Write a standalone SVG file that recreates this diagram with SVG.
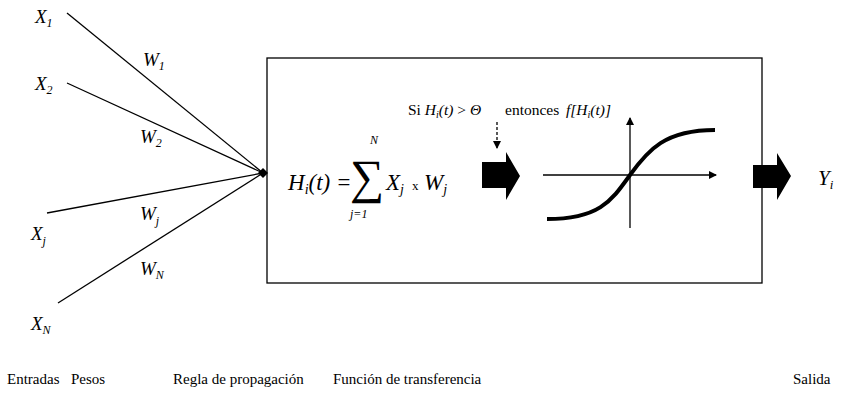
<svg xmlns="http://www.w3.org/2000/svg" width="861" height="396" viewBox="0 0 861 396" font-family="'Liberation Serif', 'DejaVu Serif', serif">
<style>
text{font-family:'Liberation Serif','DejaVu Serif',serif;fill:#000}
.v{font-style:italic;font-size:19px}
.s{font-size:12px;font-style:italic}
.lab{font-size:15px}
.ln{stroke:#000;stroke-width:1.3;fill:none}
</style>
<defs>
<marker id="ah" markerWidth="8" markerHeight="8" refX="7" refY="4" orient="auto" markerUnits="userSpaceOnUse"><path d="M0,0 L8,4 L0,8 z" fill="#000"/></marker>
</defs>
<rect width="861" height="396" fill="#fff"/>
<g id="box"><rect x="267" y="58" width="495" height="225" fill="none" stroke="#000" stroke-width="1.3"/></g>
<g id="connectors">
<line class="ln" x1="67" y1="13" x2="263" y2="173"/>
<line class="ln" x1="67" y1="83" x2="263" y2="173"/>
<line class="ln" x1="47" y1="213" x2="263" y2="173"/>
<line class="ln" x1="58" y1="303" x2="263" y2="173"/>
<path d="M258,173 L263,168 L268,173 L263,178 z" fill="#000"/>
<line x1="497" y1="122" x2="497" y2="148" stroke="#000" stroke-width="1.3" stroke-dasharray="3,2" marker-end="url(#ah)"/>
</g>
<g id="inputs">
<text class="v" x="35" y="23">X<tspan class="s" dy="4">1</tspan></text>
<text class="v" x="35" y="90">X<tspan class="s" dy="4">2</tspan></text>
<text class="v" x="31" y="240">X<tspan class="s" dy="5">j</tspan></text>
<text class="v" x="31" y="330">X<tspan class="s" dy="4">N</tspan></text>
</g>
<g id="weights">
<text class="v" x="143" y="66">W<tspan class="s" dy="4">1</tspan></text>
<text class="v" x="140" y="143">W<tspan class="s" dy="4">2</tspan></text>
<text class="v" x="140" y="220">W<tspan class="s" dy="5">j</tspan></text>
<text class="v" x="140" y="275">W<tspan class="s" dy="4">N</tspan></text>
</g>
<g id="propagation">
<text x="288" y="190" style="font-size:23px;font-style:italic">H<tspan style="font-size:14px" dy="4">i</tspan><tspan dy="-4">(t) =</tspan></text>
<text x="350" y="193" style="font-size:48px">∑</text>
<text class="s" x="370" y="144">N</text>
<text class="s" x="350" y="218">j=1</text>
<text x="386" y="190" style="font-size:23px;font-style:italic">X<tspan style="font-size:14px" dy="4">j</tspan></text>
<text x="412" y="190" style="font-size:13px">x</text>
<text x="424" y="190" style="font-size:23px;font-style:italic">W<tspan style="font-size:14px" dy="4">j</tspan></text>
<text y="115" style="font-size:15.5px"><tspan x="408">Si </tspan><tspan font-style="italic">H<tspan font-size="10" dy="3">i</tspan><tspan dy="-3">(t)</tspan></tspan> &gt; <tspan font-style="italic">Θ</tspan><tspan x="505">entonces</tspan><tspan x="566" font-style="italic">f[H<tspan font-size="10" dy="3">i</tspan><tspan dy="-3">(t)]</tspan></tspan></text>
</g>
<g id="arrow1"><path d="M482,162 L506,162 L506,152 L520,176 L506,200 L506,188 L482,188 z" fill="#000"/></g>
<g id="transfer">
<line class="ln" x1="543" y1="175" x2="716" y2="175" marker-end="url(#ah)"/>
<line class="ln" x1="630" y1="228" x2="630" y2="118" marker-end="url(#ah)"/>
<path d="M547,219 C600,219 612,200 630,175 C648,150 665,130 715,130" fill="none" stroke="#000" stroke-width="4"/>
</g>
<g id="arrow2"><path d="M753,165 L777,165 L777,153 L791,176 L777,200 L777,188 L753,188 z" fill="#000"/></g>
<g id="output"><text x="818" y="185" style="font-size:21px;font-style:italic">Y<tspan style="font-size:13px" dy="4">i</tspan></text></g>
<g id="labels">
<text class="lab" x="7" y="384">Entradas</text>
<text class="lab" x="71" y="384">Pesos</text>
<text class="lab" x="173" y="384">Regla de propagación</text>
<text class="lab" x="333" y="384">Función de transferencia</text>
<text class="lab" x="793" y="384">Salida</text>
</g>
</svg>
